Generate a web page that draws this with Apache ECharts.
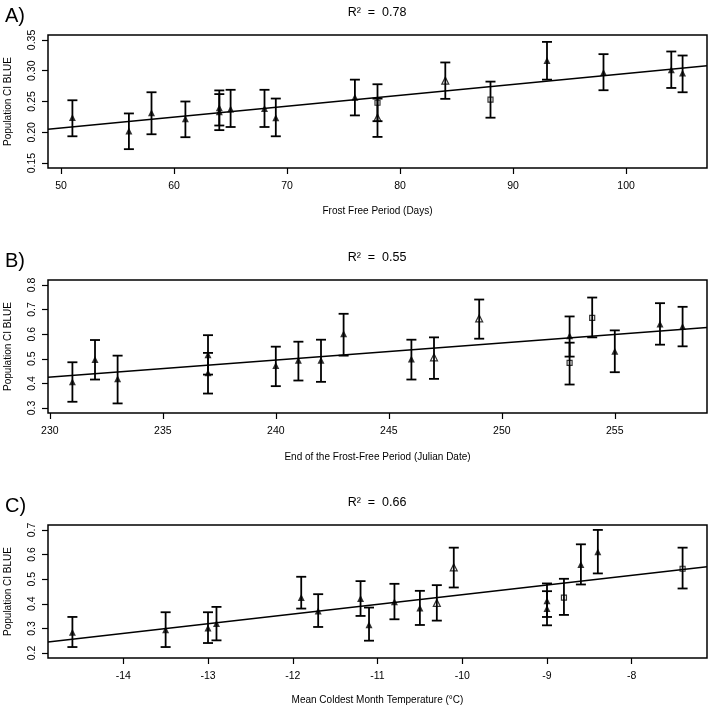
<!DOCTYPE html>
<html><head><meta charset="utf-8">
<script src="https://cdn.jsdelivr.net/npm/echarts@6/dist/echarts.min.js"></script>
<style>html,body{margin:0;padding:0;background:#fff}#c{width:709px;height:708px}</style>
</head><body><div id="c"></div>
<script>
// ---- Panel A: Frost Free Period (Days)
const xA = [51,56,58,61,64,64,65,68,69,76,78,78,84,88,93,98,104,105];
const yA = [0.224,0.202,0.2317,0.222,0.2398,0.2335,0.238,0.2387,0.2237,0.257,0.248,0.2237,0.2839,0.2532,0.3167,0.2973,0.3016,0.2962];
const loA = [0.1935,0.1726,0.1968,0.192,0.211,0.2035,0.2086,0.2086,0.1935,0.2274,0.218,0.1925,0.2543,0.2237,0.2855,0.2683,0.272,0.265];
const hiA = [0.252,0.2306,0.265,0.25,0.268,0.262,0.269,0.269,0.2548,0.2855,0.278,0.2547,0.3134,0.2823,0.3468,0.3269,0.3312,0.3247];
const shA = ['f','f','f','f','f','f','f','f','f','f','s','o','o','s','f','f','f','f'];
const fitA = [[48.84,0.2048],[107.16,0.3081]];
const xTicksA = [50,60,70,80,90,100];
const yTicksA = [0.15,0.20,0.25,0.30,0.35];

// ---- Panel B: End of the Frost-Free Period (Julian Date)
const xB = [231,232,233,237,237,240,241,242,243,246,247,249,253,253,254,255,257,258];
const yB = [0.4065,0.4968,0.4186,0.517,0.443,0.4725,0.494,0.494,0.6019,0.4995,0.5062,0.6639,0.594,0.4834,0.6666,0.5305,0.641,0.6315];
const loB = [0.3256,0.4159,0.3189,0.436,0.359,0.389,0.4119,0.4065,0.5129,0.4159,0.4186,0.5817,0.509,0.3956,0.5871,0.4456,0.5574,0.5507];
const hiB = [0.486,0.5763,0.5129,0.596,0.524,0.5493,0.5695,0.5776,0.6828,0.5776,0.5871,0.7407,0.672,0.5655,0.7488,0.6154,0.7259,0.7111];
const shB = ['f','f','f','f','f','f','f','f','f','f','o','o','f','s','s','f','f','f'];
const fitB = [[229.92,0.4253],[259.08,0.6275]];
const xTicksB = [230,235,240,245,250,255];
const yTicksB = [0.3,0.4,0.5,0.6,0.7,0.8];

// ---- Panel C: Mean Coldest Month Temperature (°C)
const xC = [-14.6,-13.5,-13.0,-12.9,-11.9,-11.7,-11.2,-11.1,-10.8,-10.5,-10.3,-10.1,-9.0,-9.0,-8.8,-8.6,-8.4,-7.4];
const yC = [0.2842,0.2951,0.3019,0.3196,0.4255,0.3712,0.4215,0.3155,0.4079,0.3834,0.4038,0.5478,0.412,0.381,0.4255,0.5601,0.6117,0.5424];
const loC = [0.2245,0.2245,0.2408,0.2516,0.3807,0.306,0.3508,0.2503,0.3372,0.3141,0.3318,0.4663,0.3466,0.3127,0.3549,0.4785,0.5234,0.4622];
const hiC = [0.3467,0.3658,0.3658,0.3875,0.5098,0.4391,0.4921,0.3848,0.4812,0.4527,0.4758,0.628,0.4827,0.4513,0.5016,0.6416,0.70,0.628];
const shC = ['f','f','f','f','f','f','f','f','f','f','o','o','f','f','s','f','f','s'];
const fitC = [[-14.888,0.2448],[-7.112,0.5505]];
const xTicksC = [-14,-13,-12,-11,-10,-9,-8];
const yTicksC = [0.2,0.3,0.4,0.5,0.6,0.7];

const panels = [
  {x:xA,y:yA,lo:loA,hi:hiA,sh:shA,fit:fitA,xt:xTicksA,yt:yTicksA,xmin:48.84,xmax:107.16,ymin:0.142,ymax:0.358,
   top:35,xname:'Frost Free Period (Days)',gap:38,r2:'R²  =  0.78',label:'A)',ydec:2},
  {x:xB,y:yB,lo:loB,hi:hiB,sh:shB,fit:fitB,xt:xTicksB,yt:yTicksB,xmin:229.92,xmax:259.08,ymin:0.28,ymax:0.82,
   top:280,xname:'End of the Frost-Free Period (Julian Date)',gap:39,r2:'R²  =  0.55',label:'B)',ydec:1},
  {x:xC,y:yC,lo:loC,hi:hiC,sh:shC,fit:fitC,xt:xTicksC,yt:yTicksC,xmin:-14.888,xmax:-7.112,ymin:0.18,ymax:0.72,
   top:525,xname:'Mean Coldest Month Temperature (°C)',gap:37,r2:'R²  =  0.66',label:'C)',ydec:1}
];

const FONT = '"Liberation Sans", Arial, sans-serif';
const H = 133;
const grid=[], xAxis=[], yAxis=[], series=[], graphic=[];

panels.forEach((p,i)=>{
  grid.push({left:48,right:2,top:p.top,height:H,show:true,borderColor:'#000',borderWidth:1.5,backgroundColor:'transparent',
    containLabel:false,outerBoundsMode:'none'});
  xAxis.push({type:'value',gridIndex:i,min:p.xmin,max:p.xmax,
    name:p.xname,nameLocation:'middle',nameGap:p.gap,
    nameTextStyle:{color:'#000',fontSize:10,fontFamily:FONT},
    axisLine:{show:false},splitLine:{show:false},
    axisTick:{show:true,inside:false,length:6,customValues:p.xt,lineStyle:{color:'#000',width:1.2}},
    axisLabel:{show:true,margin:13,customValues:p.xt,color:'#000',fontSize:10.5,fontFamily:FONT,
      formatter:v=>String(Math.round(v))}
  });
  yAxis.push({type:'value',gridIndex:i,min:p.ymin,max:p.ymax,
    name:'Population CI BLUE',nameLocation:'middle',nameGap:35,
    nameTextStyle:{color:'#000',fontSize:10,fontFamily:FONT},
    axisLine:{show:false},splitLine:{show:false},
    axisTick:{show:true,inside:false,length:6,customValues:p.yt,lineStyle:{color:'#000',width:1.2}},
    axisLabel:{show:true,rotate:90,margin:10,customValues:p.yt,color:'#000',fontSize:10.5,fontFamily:FONT,
      formatter:v=>v.toFixed(p.ydec)}
  });
  series.push({type:'line',xAxisIndex:i,yAxisIndex:i,data:p.fit,symbol:'none',silent:true,
    lineStyle:{color:'#000',width:1.5},z:2});
  const eb = p.x.map((x,k)=>[x,p.lo[k],p.hi[k]]);
  series.push({type:'custom',xAxisIndex:i,yAxisIndex:i,data:eb,encode:{x:0,y:[1,2]},z:3,silent:true,
    renderItem:(params,api)=>{
      const x=api.value(0), lo=api.value(1), hi=api.value(2);
      const a=api.coord([x,hi]), b=api.coord([x,lo]); const w=5;
      const st={stroke:'#000',lineWidth:1.8};
      return {type:'group',children:[
        {type:'line',shape:{x1:a[0],y1:a[1],x2:b[0],y2:b[1]},style:st},
        {type:'line',shape:{x1:a[0]-w,y1:a[1],x2:a[0]+w,y2:a[1]},style:st},
        {type:'line',shape:{x1:b[0]-w,y1:b[1],x2:b[0]+w,y2:b[1]},style:st}
      ]};
    }});
  const pick = s => p.x.map((x,k)=>p.sh[k]===s?[x,p.y[k]]:null).filter(d=>d);
  series.push({type:'scatter',xAxisIndex:i,yAxisIndex:i,data:pick('f'),symbol:'triangle',symbolSize:7,z:4,silent:true,
    itemStyle:{color:'#000'}});
  series.push({type:'scatter',xAxisIndex:i,yAxisIndex:i,data:pick('o'),symbol:'triangle',symbolSize:7,z:4,silent:true,
    itemStyle:{color:'transparent',borderColor:'#000',borderWidth:1.2}});
  series.push({type:'scatter',xAxisIndex:i,yAxisIndex:i,data:pick('s'),symbol:'rect',symbolSize:5,z:4,silent:true,
    itemStyle:{color:'transparent',borderColor:'#000',borderWidth:1.2}});
  graphic.push({type:'text',left:5,top:p.top-29,style:{text:p.label,font:'20px '+FONT,fill:'#000'}});
  graphic.push({type:'text',x:377,y:p.top-22,style:{text:p.r2,font:'12.5px '+FONT,fill:'#000',textAlign:'center',textVerticalAlign:'middle'}});
});

const chart = echarts.init(document.getElementById('c'),null,{renderer:'canvas'});
chart.setOption({backgroundColor:'#fff',animation:false,grid,xAxis,yAxis,series,graphic});
</script></body></html>
